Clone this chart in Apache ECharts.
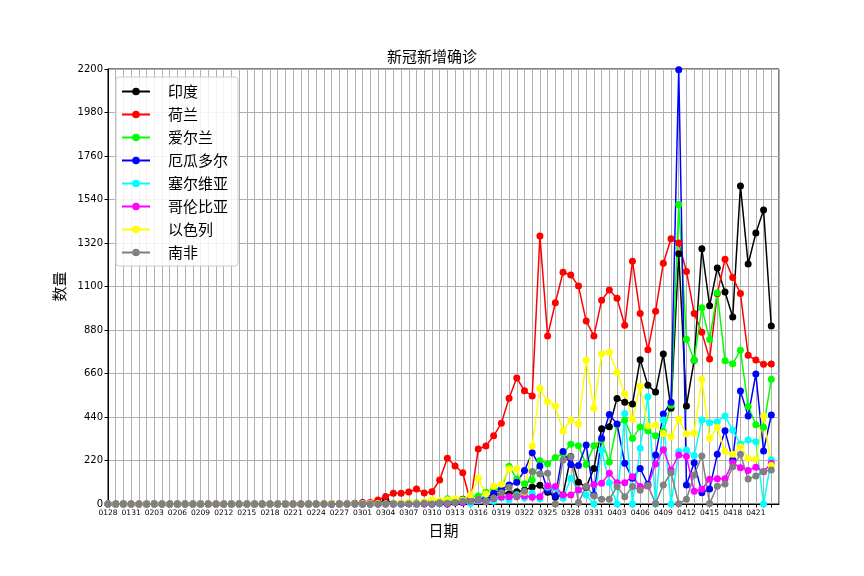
<!DOCTYPE html>
<html><head><meta charset="utf-8">
<script src="https://cdn.jsdelivr.net/npm/echarts@6/dist/echarts.min.js"></script>
<style>html,body{margin:0;padding:0;background:#fff}#c{width:864px;height:576px}</style>
</head><body><div id="c"></div>
<script>
// dates, one per day (x position = index)
const dates = ['0128','0129','0130','0131',
'0201','0202','0203','0204','0205','0206','0207','0208','0209','0210','0211','0212','0213','0214','0215','0216','0217','0218','0219','0220','0221','0222','0223','0224','0225','0226','0227','0228','0229',
'0301','0302','0303','0304','0305','0306','0307','0308','0309','0310','0311','0312','0313','0314','0315','0316','0317','0318','0319','0320','0321','0322','0323','0324','0325','0326','0327','0328','0329','0330','0331',
'0401','0402','0403','0404','0405','0406','0407','0408','0409','0410','0411','0412','0413','0414','0415','0416','0417','0418','0419','0420','0421','0422','0423'];
// tick labels shown every third day
const tickLabels = ['0128','0131','0203','0206','0209','0212','0215','0218','0221','0224','0227','0301','0304','0307','0310','0313','0316','0319','0322','0325','0328','0331','0403','0406','0409','0412','0415','0418','0421'];
const yTicks = [0,220,440,660,880,1100,1320,1540,1760,1980,2200];

const india = [0,0,1,0,0,0,1,0,0,0,0,0,0,0,0,0,0,0,0,0,0,0,0,0,0,0,0,0,0,0,0,0,0,
0,3,1,22,2,1,3,5,4,13,6,11,10,24,10,22,23,40,60,51,62,70,86,95,60,34,46,240,110,85,180,381,391,534,515,506,730,600,566,758,484,1266,496,727,1291,1003,1193,1072,946,1608,1214,1370,1487,900];
const netherlands = [0,0,0,0,0,0,0,0,0,0,0,0,0,0,0,0,0,0,0,0,0,0,0,0,0,0,0,0,0,0,1,1,4,
7,8,20,38,54,54,61,76,56,62,121,232,192,158,10,278,293,345,408,535,637,573,546,1355,850,1018,1172,1158,1102,925,850,1030,1082,1040,904,1228,963,780,975,1218,1342,1320,1176,964,868,733,1063,1238,1145,1065,752,728,707,708];
const ireland = [0,0,0,0,0,0,0,0,0,0,0,0,0,0,0,0,0,0,0,0,0,0,0,0,0,0,0,0,0,0,0,0,1,
0,0,1,0,4,1,6,2,3,10,9,27,20,20,39,40,60,77,74,191,126,102,121,219,204,235,255,302,294,200,295,325,212,402,424,331,390,370,345,365,500,1515,833,727,992,832,1068,724,709,778,493,401,388,631];
const ecuador = [0,0,0,0,0,0,0,0,0,0,0,0,0,0,0,0,0,0,0,0,0,0,0,0,0,0,0,0,0,0,0,0,1,
5,0,1,3,0,3,1,0,2,0,2,0,6,9,10,21,30,55,74,96,110,169,259,192,68,40,265,200,195,298,46,332,453,405,206,130,180,100,248,455,515,2196,96,209,57,76,251,371,222,571,445,657,268,450];
const serbia = [0,0,0,0,0,0,0,0,0,0,0,0,0,0,0,0,0,0,0,0,0,0,0,0,0,0,0,0,0,0,0,0,0,
0,0,0,0,0,0,1,0,0,0,4,7,6,13,2,16,17,14,31,21,47,30,54,27,85,80,29,130,71,46,0,273,108,0,458,0,282,543,0,425,0,265,273,245,425,411,416,445,373,303,324,315,0,224];
const colombia = [0,0,0,0,0,0,0,0,0,0,0,0,0,0,0,0,0,0,0,0,0,0,0,0,0,0,0,0,0,0,0,0,0,
0,0,0,0,0,0,1,0,0,0,6,0,7,8,22,20,12,28,35,37,37,40,34,37,91,88,46,46,71,88,98,105,155,108,108,138,88,91,202,275,172,248,241,64,75,125,128,128,209,183,170,186,163,206];
const israel = [0,0,0,0,0,0,0,0,0,0,0,0,0,0,0,0,0,0,0,0,0,0,0,0,0,0,0,0,0,2,0,0,0,
3,3,3,1,2,4,10,5,11,20,18,22,27,20,45,130,50,90,100,178,178,60,293,585,517,496,369,425,405,728,484,758,767,666,556,428,595,394,400,357,340,428,354,358,631,332,388,265,252,290,230,226,445,195];
const southAfrica = [0,0,0,0,0,0,0,0,0,0,0,0,0,0,0,0,0,0,0,0,0,0,0,0,0,0,0,0,0,0,0,0,0,
0,0,0,0,1,0,1,1,4,0,6,4,7,14,13,24,11,30,57,85,40,65,164,152,155,0,222,239,7,88,40,24,24,88,37,88,69,93,3,96,158,1,24,147,243,2,90,101,188,251,126,142,165,172];

const seriesNames = ['印度','荷兰','爱尔兰','厄瓜多尔','塞尔维亚','哥伦比亚','以色列','南非'];
const seriesValues = [india, netherlands, ireland, ecuador, serbia, colombia, israel, southAfrica];
const seriesColors = ['#000000','#ff0000','#00ff00','#0000ff','#00ffff','#ff00ff','#ffff00','#808080'];

const cjk = '"Noto Sans CJK SC", sans-serif';
const chart = echarts.init(document.getElementById('c'), null, {renderer: 'canvas'});
const labelMap = {};
tickLabels.forEach(t => { labelMap[dates.indexOf(t)] = t; });
// legend glyph: short line with a small circle marker
const legendIcon = 'path://M0,2.6L28,2.6L28,4.4L0,4.4Z M17.8,3.5A3.8,3.8,0,1,1,10.2,3.5A3.8,3.8,0,1,1,17.8,3.5Z';

chart.setOption({
  animation: false,
  backgroundColor: '#ffffff',
  title: {
    text: '新冠新增确诊', left: 'center', top: 44,
    textStyle: {fontFamily: cjk, fontSize: 15, fontWeight: 'normal', color: '#000'}
  },
  grid: {left: 108, right: 85, top: 69, bottom: 72, show: true, borderColor: '#000', borderWidth: 1, backgroundColor: '#fff'},
  legend: {
    orient: 'vertical', left: 116, top: 77,
    padding: [7, 10, 6, 6],
    icon: legendIcon,
    itemWidth: 28, itemHeight: 7.6, itemGap: 8,
    backgroundColor: 'rgba(255,255,255,0.85)', borderColor: '#cccccc', borderWidth: 1, borderRadius: 3,
    textStyle: {fontFamily: cjk, fontSize: 15, color: '#000', lineHeight: 14, padding: [0, 0, 0, 13]},
    data: seriesNames
  },
  xAxis: {
    type: 'value', min: 0, max: dates.length, interval: 1,
    name: '日期', nameLocation: 'middle', nameGap: 19,
    nameTextStyle: {fontFamily: cjk, fontSize: 15, color: '#000'},
    axisLine: {show: true, lineStyle: {color: '#000', width: 1}},
    axisTick: {show: true, length: 3.5, lineStyle: {color: '#000'}},
    axisLabel: {
      fontFamily: 'DejaVu Sans', fontSize: 7.5, color: '#000', margin: 5, showMaxLabel: false,
      formatter: v => labelMap[v] !== undefined ? labelMap[v] : ''
    },
    splitLine: {show: true, lineStyle: {color: '#b0b0b0', width: 1}}
  },
  yAxis: {
    type: 'value', min: yTicks[0], max: yTicks[yTicks.length - 1], interval: yTicks[1] - yTicks[0],
    name: '数量', nameLocation: 'middle', nameGap: 36, nameRotate: 90,
    nameTextStyle: {fontFamily: cjk, fontSize: 15, color: '#000'},
    axisLine: {show: true, lineStyle: {color: '#000', width: 1}},
    axisTick: {show: true, length: 3.5, lineStyle: {color: '#000'}},
    axisLabel: {fontFamily: 'DejaVu Sans', fontSize: 10, color: '#000', margin: 5, formatter: v => String(v)},
    splitLine: {show: true, lineStyle: {color: '#b0b0b0', width: 1}}
  },
  series: seriesNames.map((name, k) => ({
    name: name, type: 'line',
    data: seriesValues[k].map((v, i) => [i, v]),
    symbol: 'circle', symbolSize: 7, showAllSymbol: true,
    color: seriesColors[k],
    lineStyle: {width: 1.5, color: seriesColors[k]},
    itemStyle: {color: seriesColors[k]},
    emphasis: {disabled: true}
  }))
});
</script></body></html>
